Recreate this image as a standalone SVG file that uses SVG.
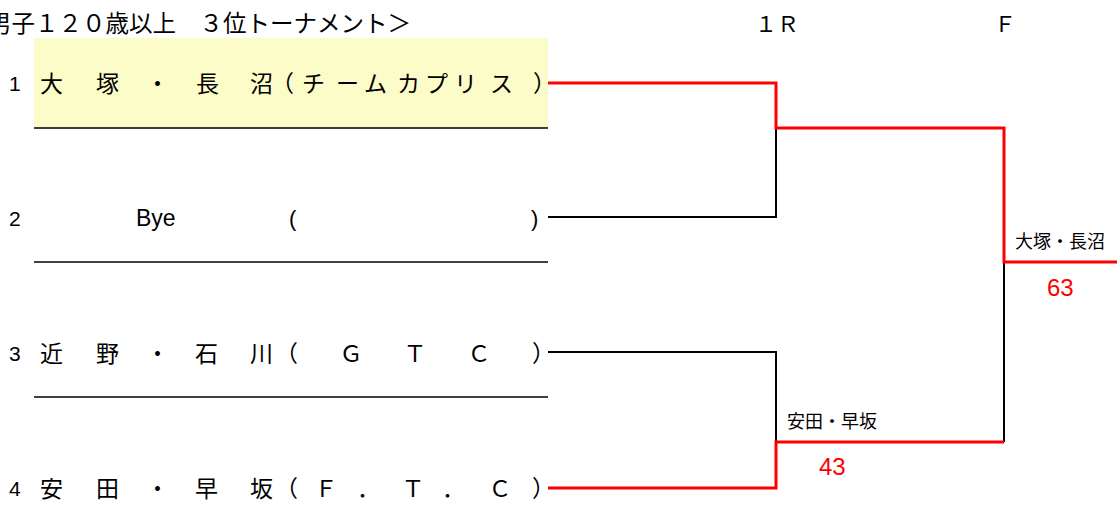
<svg xmlns="http://www.w3.org/2000/svg" width="1117" height="528" viewBox="0 0 1117 528">
<style>
.t{font-family:"Liberation Sans","Noto Sans CJK JP",sans-serif;fill:#000}
.j{font-family:"Noto Sans CJK JP","Liberation Sans",sans-serif;fill:#000}
.big{font-size:23px}
.lbl{font-size:18px}
.num{font-size:21px}
.sc{font-size:24px;fill:#ff0000}
.rl{fill:none;stroke:#ff0000;stroke-width:3}
.bl{fill:none;stroke:#000;stroke-width:2}
.sep{stroke:#000;stroke-width:1.3}
</style>
<rect width="1117" height="528" fill="#fff"/>
<g id="header">
<text class="j" x="-12" y="32" font-size="23.5">男子１２０歳以上　３位トーナメント＞</text>
<text class="j" x="755" y="32" font-size="22">１Ｒ</text>
<text class="j" x="994" y="32" font-size="22">Ｆ</text>
</g>
<g id="entry1">
<rect x="34" y="38" width="514" height="90" fill="#fcfcc8"/>
<line class="sep" x1="34" y1="128" x2="548" y2="128"/>
<text class="t num" x="9" y="91">1</text>
<text class="j big" y="92"><tspan x="40">大</tspan><tspan x="96">塚</tspan><tspan x="146">・</tspan><tspan x="196">長</tspan><tspan x="250">沼</tspan><tspan x="271">（</tspan><tspan x="302">チ</tspan><tspan x="336">ー</tspan><tspan x="364">ム</tspan><tspan x="397">カ</tspan><tspan x="425">プ</tspan><tspan x="454">リ</tspan><tspan x="490">ス</tspan><tspan x="533">）</tspan></text>
</g>
<g id="entry2">
<line class="sep" x1="34" y1="262" x2="548" y2="262"/>
<text class="t num" x="9" y="226">2</text>
<text class="t" x="136" y="226" font-size="23">Bye</text>
<text class="t" x="289" y="226" font-size="22">(</text>
<text class="t" x="531" y="226" font-size="22">)</text>
</g>
<g id="entry3">
<line class="sep" x1="34" y1="397" x2="548" y2="397"/>
<text class="t num" x="9" y="361">3</text>
<text class="j big" y="362"><tspan x="40">近</tspan><tspan x="96">野</tspan><tspan x="146">・</tspan><tspan x="195">石</tspan><tspan x="250">川</tspan><tspan x="275">（</tspan><tspan x="339.5">Ｇ</tspan><tspan x="403.5">Ｔ</tspan><tspan x="467.5">Ｃ</tspan><tspan x="532">）</tspan></text>
</g>
<g id="entry4">
<text class="t num" x="9" y="496">4</text>
<text class="j big" y="497"><tspan x="40">安</tspan><tspan x="96">田</tspan><tspan x="146">・</tspan><tspan x="195">早</tspan><tspan x="250">坂</tspan><tspan x="275">（</tspan><tspan x="314.5">Ｆ</tspan><tspan x="357">．</tspan><tspan x="401.5">Ｔ</tspan><tspan x="442">．</tspan><tspan x="488.5">Ｃ</tspan><tspan x="532">）</tspan></text>
</g>
<g id="connectors">
<polyline class="bl" points="548,217 776,217 776,128"/>
<polyline class="bl" points="548,352 776,352 776,442"/>
<polyline class="bl" points="1004,442 1004,262"/>
<polyline class="rl" points="548,83 776,83 776,128 1004,128 1004,262 1117,262"/>
<polyline class="rl" points="548,488 776,488 776,442 1004,442"/>
</g>
<g id="result-sf">
<text class="j lbl" x="787" y="428">安田・早坂</text>
<text class="t sc" x="819" y="475">43</text>
</g>
<g id="result-f">
<text class="j lbl" x="1015" y="248">大塚・長沼</text>
<text class="t sc" x="1047" y="296">63</text>
</g>
</svg>
